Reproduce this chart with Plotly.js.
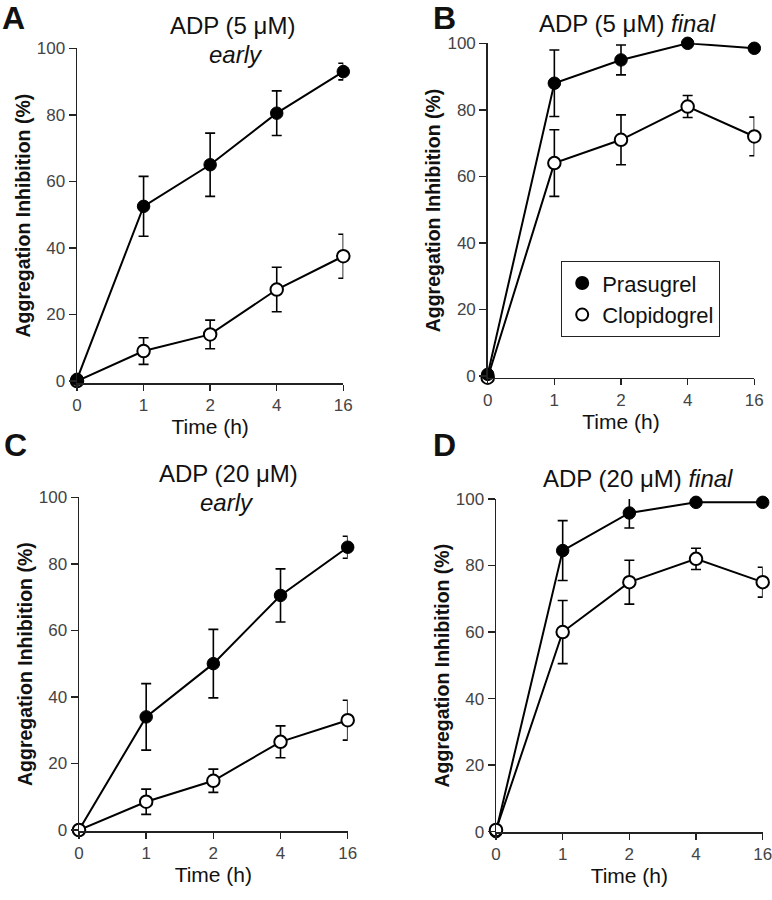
<!DOCTYPE html>
<html>
<head>
<meta charset="utf-8">
<script src="https://cdn.plot.ly/plotly-3.0.1.min.js"></script>
<style>html,body{margin:0;padding:0;background:#fff;}#chart{width:772px;height:900px;}</style>
</head>
<body>
<div id="chart"></div>
<script>
// ---- data ----
const timeLabels = ['0', '1', '2', '4', '16'];
const yTicks = [0, 20, 40, 60, 80, 100];
const seriesNames = ['Prasugrel', 'Clopidogrel'];

// Panel A: ADP (5 uM) early
const prasA = [0.5, 52.5, 65, 80.5, 93];
const prasAErr = [0, 9, 9.5, 6.7, 2.5];
const clopA = [0, 9, 14, 27.5, 37.5];
const clopAErr = [0, 4, 4.3, 6.7, 6.6];

// Panel B: ADP (5 uM) final
const prasB = [0.5, 88, 95, 100, 98.5];
const prasBErr = [0, 10, 4.5, 0, 0];
const clopB = [-0.5, 64, 71, 81, 72];
const clopBErr = [0, 10, 7.5, 3.3, 5.8];

// Panel C: ADP (20 uM) early
const prasC = [0, 34, 50, 70.5, 85];
const prasCErr = [0, 10, 10.3, 8, 3.3];
const clopC = [0, 8.5, 14.8, 26.5, 33];
const clopCErr = [0, 3.8, 3.5, 4.8, 6];

// Panel D: ADP (20 uM) final
const prasD = [0, 84.5, 95.8, 99, 99];
const prasDErr = [0, 9, 4.5, 0, 0];
const clopD = [0.5, 60, 75, 82, 75];
const clopDErr = [0, 9.5, 6.6, 3.2, 4.5];

// ---- styling helpers ----
const FONT = 'Arial, "Liberation Sans", Helvetica, sans-serif';
const W = 772, H = 900;
const px = v => v / W;
const py = v => 1 - v / H;

// line-only trace (no legend) + marker/error trace (legend shows marker only)
function series(y, err, xa, ya, filled, idx, showleg) {
  const lineTr = {
    x: timeLabels, y: y, xaxis: xa, yaxis: ya,
    type: 'scatter', mode: 'lines', showlegend: false, hoverinfo: 'skip',
    line: {color: '#000', width: 2}, cliponaxis: false
  };
  const markTr = {
    x: timeLabels, y: y, xaxis: xa, yaxis: ya,
    type: 'scatter', mode: 'markers', name: seriesNames[idx],
    showlegend: showleg, legendrank: idx + 1,
    marker: filled
      ? {size: 12.5, color: '#000', line: {color: '#000', width: 1}}
      : {size: 12.5, color: '#fff', line: {color: '#000', width: 2}},
    error_y: {type: 'data', array: err, visible: true, color: '#000', thickness: 1.6, width: 5},
    cliponaxis: false
  };
  return [lineTr, markTr];
}

const data = [].concat(
  series(clopA, clopAErr, 'x', 'y', false, 1, false),
  series(prasA, prasAErr, 'x', 'y', true, 0, false),
  series(clopB, clopBErr, 'x2', 'y2', false, 1, true),
  series(prasB, prasBErr, 'x2', 'y2', true, 0, true),
  series(prasC, prasCErr, 'x3', 'y3', true, 0, false),
  series(clopC, clopCErr, 'x3', 'y3', false, 1, false),
  series(prasD, prasDErr, 'x4', 'y4', true, 0, false),
  series(clopD, clopDErr, 'x4', 'y4', false, 1, false)
);

function xAxis(domain, anchor) {
  return {
    domain: domain, anchor: anchor, type: 'category', categoryarray: timeLabels,
    range: [0, 4], showline: true, linecolor: '#222', linewidth: 1.5,
    ticks: 'outside', ticklen: 6, tickwidth: 1.5, tickcolor: '#222',
    showgrid: false, zeroline: false,
    tickfont: {family: FONT, size: 17, color: '#444'},
    title: {text: 'Time (h)', font: {family: FONT, size: 21, color: '#111'}, standoff: 0}
  };
}
function yAxis(domain, anchor, lo) {
  return {
    domain: domain, anchor: anchor, range: [lo, 100],
    tickmode: 'array', tickvals: yTicks, ticktext: yTicks.map(String),
    showline: true, linecolor: '#222', linewidth: 1.5,
    ticks: 'outside', ticklen: 7, tickwidth: 1.5, tickcolor: '#222',
    showgrid: false, zeroline: false,
    tickfont: {family: FONT, size: 17, color: '#444'},
    title: {text: '<b>Aggregation Inhibition (%)</b>', font: {family: FONT, size: 19.5, color: '#111'}, standoff: 1}
  };
}

const annFont = (s, extra) => Object.assign({family: FONT, size: s, color: '#111'}, extra || {});
function ann(text, x, y, size) {
  return {text: text, x: px(x), y: py(y), xref: 'paper', yref: 'paper',
          xanchor: 'center', yanchor: 'middle', showarrow: false, font: annFont(size)};
}

const layout = {
  width: W, height: H,
  margin: {l: 0, r: 0, t: 0, b: 0},
  paper_bgcolor: '#fff', plot_bgcolor: 'rgba(0,0,0,0)',
  font: {family: FONT, color: '#111'},
  showlegend: true,
  legend: {
    x: px(561), y: py(261), xanchor: 'left', yanchor: 'top',
    bordercolor: '#222', borderwidth: 1.2, bgcolor: '#fff',
    font: {family: FONT, size: 22, color: '#111'},
    tracegroupgap: 0, itemsizing: 'constant'
  },
  xaxis:  xAxis([px(77), px(343.3)], 'y'),
  yaxis:  yAxis([py(383), py(48.3)], 'x', -0.6),
  xaxis2: xAxis([px(487.7), px(754.3)], 'y2'),
  yaxis2: yAxis([py(377.7), py(43.3)], 'x2', -0.5),
  xaxis3: xAxis([px(79), px(347.7)], 'y3'),
  yaxis3: yAxis([py(831), py(497.3)], 'x3', -0.3),
  xaxis4: xAxis([px(496), px(762.7)], 'y4'),
  yaxis4: yAxis([py(832.3), py(499)], 'x4', -0.2),
  annotations: [
    ann('<b>A</b>', 14, 18, 32),
    ann('<b>B</b>', 444, 18, 32),
    ann('<b>C</b>', 15, 445, 32),
    ann('<b>D</b>', 444, 445, 32),
    ann('ADP (5 μM)', 232, 25, 24),
    ann('<i>early</i>', 236, 54, 24),
    ann('ADP (5 μM) <i>final</i>', 627, 23, 24),
    ann('ADP (20 μM)', 228, 473, 24),
    ann('<i>early</i>', 227, 502, 24),
    ann('ADP (20 μM) <i>final</i>', 638, 478, 24)
  ]
};

Plotly.newPlot('chart', data, layout, {staticPlot: true, displayModeBar: false});
</script>
</body>
</html>
